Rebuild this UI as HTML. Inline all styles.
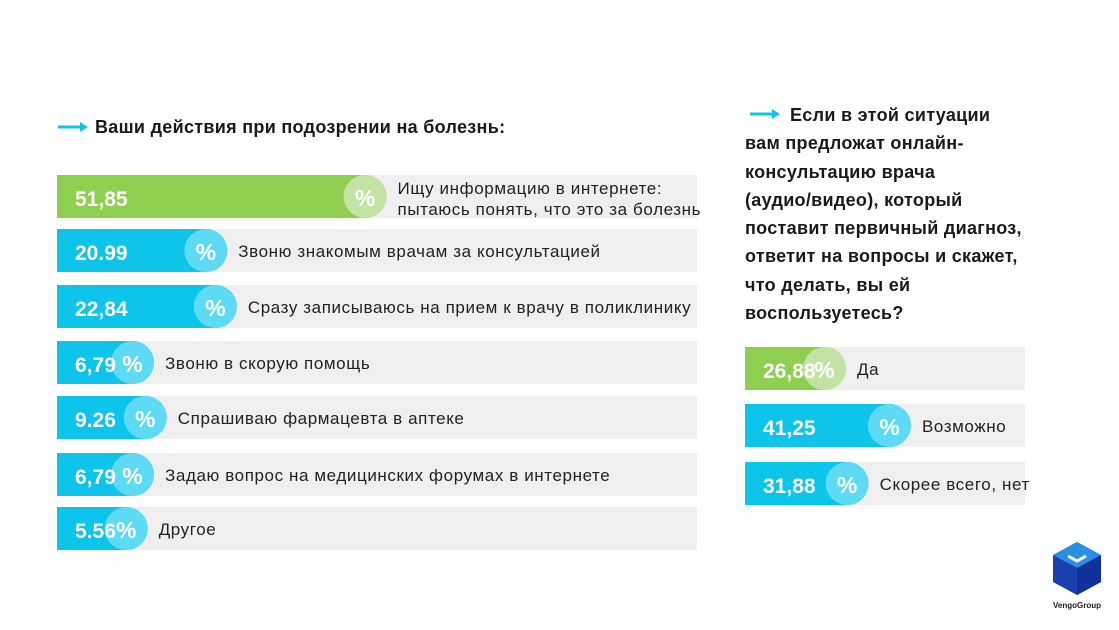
<!DOCTYPE html>
<html><head><meta charset="utf-8"><style>
body{margin:0;width:1119px;height:630px;background:#fff;font-family:"Liberation Sans",sans-serif;overflow:hidden;position:relative}
.t{position:absolute;font-weight:bold;color:#1a1a1a;font-size:18px;letter-spacing:0.3px}
svg{position:absolute;left:0;top:0}
</style></head><body>
<div class="t" style="left:95px;top:117px">Ваши действия при подозрении на болезнь:</div>
<div class="t" style="left:745px;top:101px;line-height:28.3px;white-space:nowrap"><span style="margin-left:45px">Если в этой ситуации</span><br>вам предложат онлайн-<br>консультацию врача<br>(аудио/видео), который<br>поставит первичный диагноз,<br>ответит на вопросы и скажет,<br>что делать, вы ей<br>воспользуетесь?</div>
<svg id="c" width="1119" height="630">
<g><line x1="58" y1="127" x2="84" y2="127" stroke="#0dc4ea" stroke-width="3"/><path d="M80 122 L88 127 L80 132Z" fill="#0dc4ea"/></g>
<g><line x1="750" y1="114" x2="776" y2="114" stroke="#0dc4ea" stroke-width="3"/><path d="M772 109 L780 114 L772 119Z" fill="#0dc4ea"/></g>
<g>
<path d="M1077 542 L1101 555 L1101 582 L1077 595 L1053 582 L1053 555Z" fill="#1a3fb0"/>
<path d="M1077 542 L1101 555 L1077 568 L1053 555Z" fill="#2a8fe0"/>
<path d="M1077 568 L1101 555 L1101 582 L1077 595Z" fill="#10309a"/>
<path d="M1068 556 L1077 561 L1086 556" stroke="#fff" stroke-width="3" fill="none"/>
<text x="1077" y="608" font-size="8" font-weight="bold" text-anchor="middle" fill="#222">VengoGroup</text>
</g>
</svg>
<script>
const leftValues=[51.85,20.99,22.84,6.79,9.26,6.79,5.56];
const leftPrinted=["51,85","20.99","22,84","6,79","9.26","6,79","5.56"];
const leftLabels=[["Ищу информацию в интернете:","пытаюсь понять, что это за болезнь"],["Звоню знакомым врачам за консультацией"],["Сразу записываюсь на прием к врачу в поликлинику"],["Звоню в скорую помощь"],["Спрашиваю фармацевта в аптеке"],["Задаю вопрос на медицинских форумах в интернете"],["Другое"]];
const rightValues=[26.88,41.25,31.88];
const rightPrinted=["26,88","41,25","31,88"];
const rightLabels=["Да","Возможно","Скорее всего, нет"];
const NS="http://www.w3.org/2000/svg",svg=document.getElementById('c');
function mk(t,a,p){const e=document.createElementNS(NS,t);for(const k in a)e.setAttribute(k,a[k]);(p||svg).appendChild(e);return e;}
const lx=v=>57+62+5.16*v;
const rx=v=>846+4.52*(v-26.88);
const leftY=[175,229,285,341,396,453,507];
function row(g,x0,x1,y,endX,val,lines,green){
 mk('rect',{x:x0,y:y,width:x1-x0,height:43,fill:'#efefef'},g);
 const f=green?'#8fcf50':'#0dc4ea',cc=green?'#c2e3a3':'#5edbf4';
 mk('path',{d:`M${x0} ${y} H${endX-21.5} A21.5 21.5 0 0 1 ${endX-21.5} ${y+43} H${x0}Z`,fill:f},g);
 const cx=endX-21.5;
 mk('circle',{cx:cx,cy:y+21.5,r:21.5,fill:cc},g);
 const vt=mk('text',{x:x0+18,y:y+31,'font-size':21,'font-weight':'bold',fill:'#fff'},g);vt.textContent=val;
 const p=mk('text',{x:cx,y:y+31,'font-size':23,'font-weight':'bold',fill:'#fff','text-anchor':'middle'},g);p.textContent='%';
 lines.forEach((s,i)=>{const t=mk('text',{x:endX+11,y:lines.length>1?y+19+i*21:y+28,'font-size':17,'letter-spacing':0.6,fill:'#222'},g);t.textContent=s;});
}
leftValues.forEach((v,i)=>{
 const g=mk('g',{});
 
 
 row(g,57,697,leftY[i],lx(v),leftPrinted[i],leftLabels[i],i==0);
});
const rightY=[347,404,462];
rightValues.forEach((v,i)=>{
 const g=mk('g',{});
 
 
 row(g,745,1025,rightY[i],rx(v),rightPrinted[i],[rightLabels[i]],i==0);
});
</script>
</body></html>
